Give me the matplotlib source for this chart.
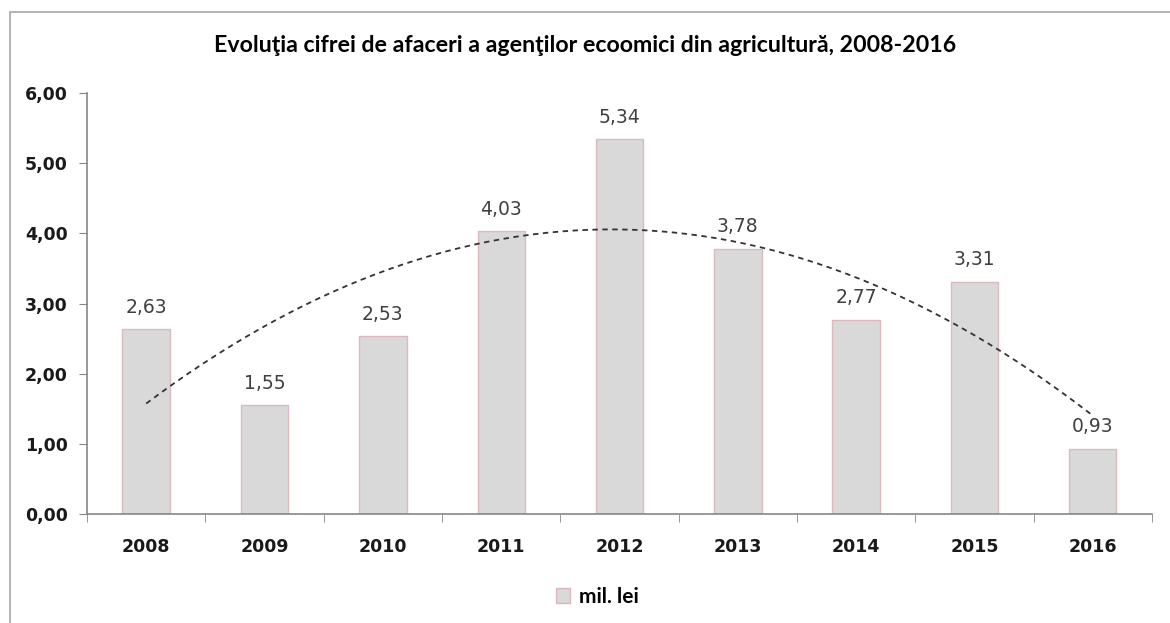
import numpy as np
import matplotlib
matplotlib.use("Agg")
import matplotlib.pyplot as plt
from matplotlib.patches import Rectangle

years = ["2008", "2009", "2010", "2011", "2012", "2013", "2014", "2015", "2016"]
values = [2.63, 1.55, 2.53, 4.03, 5.34, 3.78, 2.77, 3.31, 0.93]
yticks = [0, 1, 2, 3, 4, 5, 6]
title = "Evoluţia cifrei de afaceri a agenţilor ecoomici din agricultură, 2008-2016"
series_name = "mil. lei"

W, H = 1170, 623
fig = plt.figure(figsize=(W / 100, H / 100), dpi=100)
fig.patch.set_facecolor("white")

# outer frame
fig.patches.append(Rectangle((10 / W, -0.1), 1.2, 1 - 12 / H + 0.1, transform=fig.transFigure,
                             fill=False, edgecolor="#a6a6a6", linewidth=1.2, zorder=0))

ax = fig.add_axes([87 / W, 1 - 514 / H, (1152 - 87) / W, (514 - 93) / H])
x = np.arange(len(years))
bars = ax.bar(x, values, width=0.4, color="#d9d9d9", edgecolor="#dbb9bd", linewidth=1.0,
              label=series_name, zorder=2)

# polynomial (order 2) trendline
coef = np.polyfit(x, values, 2)
xs = np.linspace(x[0], x[-1], 200)
ax.plot(xs, np.polyval(coef, xs), color="#333333", linewidth=1.3, linestyle=(0, (3, 2.5)), zorder=3)

for xi, v in zip(x, values):
    ax.annotate(f"{v:.2f}".replace(".", ","), (xi, v), xytext=(0, 9), textcoords="offset points",
                ha="center", va="bottom", fontsize=13.5, color="#404040",
                family=["DejaVu Sans"])

ax.set_xlim(-0.5, len(years) - 0.5)
ax.set_ylim(0, 6)
ax.set_yticks(yticks)
ax.set_yticklabels([f"{t:.2f}".replace(".", ",") for t in yticks], fontsize=12.5, fontweight="bold",
                   color="#1a1a1a")
ax.set_xticks(x)
ax.set_xticklabels(years, fontsize=12.5, fontweight="bold", color="#1a1a1a")
ax.tick_params(axis="x", length=0, pad=17)
ax.set_xticks(np.arange(-0.5, len(years)), minor=True)
ax.tick_params(axis="x", which="minor", length=6, color="#868686", direction="out")
ax.tick_params(axis="y", length=6, color="#868686", pad=8)
for s in ["top", "right"]:
    ax.spines[s].set_visible(False)
for s in ["left", "bottom"]:
    ax.spines[s].set_color("#868686")
    ax.spines[s].set_linewidth(1.2)

fig.text(585 / W, 1 - 45 / H, title, ha="center", va="center", fontsize=16.7, fontweight="bold",
         family=["Lato", "DejaVu Sans"], color="#000000")

leg = fig.legend(handles=[bars], labels=[series_name], loc="center", bbox_to_anchor=(597 / W, 1 - 597 / H),
                 frameon=False, prop={"family": ["Lato", "DejaVu Sans"], "weight": "bold", "size": 15},
                 handlelength=0.7, handleheight=0.7, handletextpad=0.4)

fig.savefig("out.png", dpi=100, facecolor="white")
